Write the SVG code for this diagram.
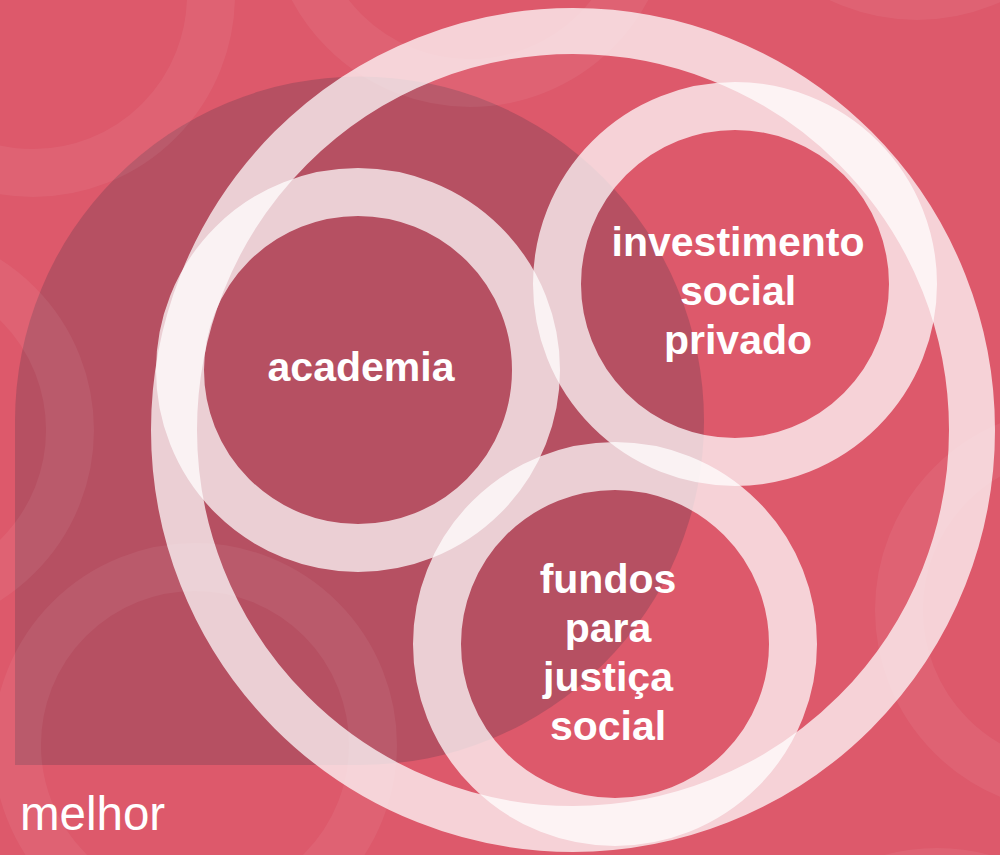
<svg xmlns="http://www.w3.org/2000/svg" width="1000" height="855" viewBox="0 0 1000 855">
  <style>
    .bgring { fill: none; stroke: #ffffff; stroke-opacity: 0.06; stroke-width: 48; }
    .ring { fill: none; stroke: #ffffff; stroke-opacity: 0.73; stroke-width: 48; }
    .lbl { font-family: "Liberation Sans", Arial, sans-serif; font-weight: bold; font-size: 41px; fill: #ffffff; text-anchor: middle; }
    .side { font-family: "Liberation Sans", Arial, sans-serif; font-size: 47.5px; fill: #ffffff; }
  </style>
  <rect x="0" y="0" width="1000" height="855" fill="#dd596b"/>
  <path id="dark-shape" d="M15,765 V421 A344,344 0 0 1 704,421 A344,344 0 0 1 360,765 Z" fill="#b65062"/>
  <g id="background-rings">
    <circle class="bgring" cx="33" cy="-5" r="178"/>
    <circle class="bgring" cx="470" cy="-95" r="178"/>
    <circle class="bgring" cx="917" cy="-182" r="178"/>
    <circle class="bgring" cx="1077" cy="610" r="178"/>
    <circle class="bgring" cx="-108" cy="430" r="178"/>
    <circle class="bgring" cx="195" cy="745" r="178"/>
    <circle class="bgring" cx="937" cy="1050" r="178"/>
  </g>
  <g id="connectors"></g>
  <g id="outer-circle">
    <circle class="ring" cx="573" cy="430" r="399" style="stroke-width:46"/>
  </g>
  <g id="node-academia">
    <circle class="ring" cx="358" cy="370" r="178"/>
    <text class="lbl" x="361" y="381">academia</text>
  </g>
  <g id="node-investimento">
    <circle class="ring" cx="735" cy="284" r="178"/>
    <text class="lbl" x="738" y="256">investimento</text>
    <text class="lbl" x="738" y="305">social</text>
    <text class="lbl" x="738" y="354">privado</text>
  </g>
  <g id="node-fundos">
    <circle class="ring" cx="615" cy="644" r="178"/>
    <text class="lbl" x="608" y="593">fundos</text>
    <text class="lbl" x="608" y="642">para</text>
    <text class="lbl" x="608" y="691">justiça</text>
    <text class="lbl" x="608" y="740">social</text>
  </g>
  <g id="side-text">
    <text class="side" x="20" y="830">melhor</text>
  </g>
</svg>
